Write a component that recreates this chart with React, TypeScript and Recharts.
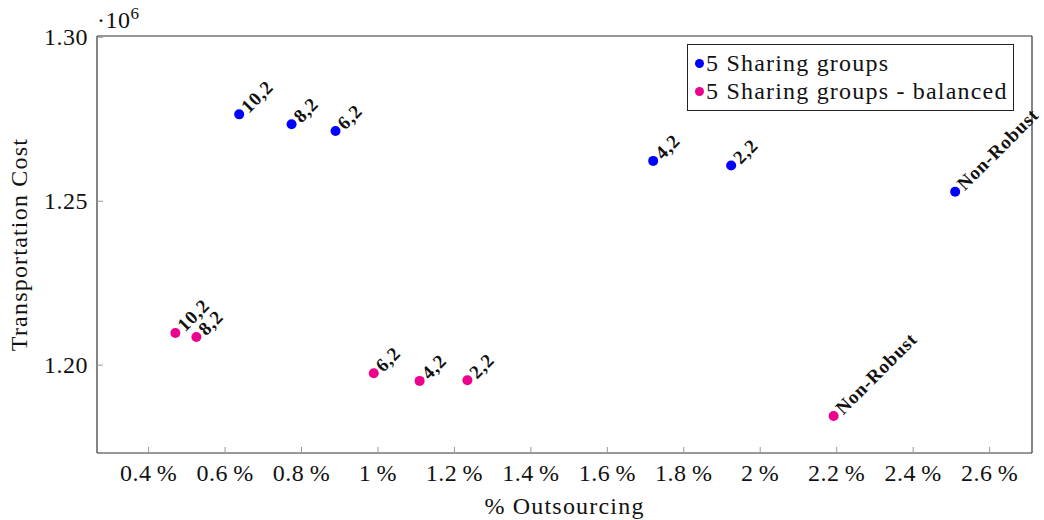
import React from 'react'
import { ScatterChart, Scatter, XAxis, YAxis, Legend, Label } from 'recharts'

// values in units of 10^6
const configLabels = ['10,2', '8,2', '6,2', '4,2', '2,2', 'Non-Robust']
const sharingOutsourcing = [0.637, 0.774, 0.889, 1.72, 1.924, 2.51]
const sharingCost = [1.2765, 1.2735, 1.2714, 1.2623, 1.2609, 1.2529]
const balancedOutsourcing = [0.47, 0.525, 0.989, 1.109, 1.234, 2.192]
const balancedCost = [1.2098, 1.2086, 1.1975, 1.1952, 1.1954, 1.1845]

const xTicks = [0.4, 0.6, 0.8, 1, 1.2, 1.4, 1.6, 1.8, 2, 2.2, 2.4, 2.6]
const yTicks = [1.2, 1.25, 1.3]

const FONT = '"Liberation Serif", "Times New Roman", serif'
const BLUE = '#0000ff'
const PINK = '#ec008c'

const sharingData = configLabels.map((label, i) => ({ x: sharingOutsourcing[i], y: sharingCost[i], label }))
const balancedData = configLabels.map((label, i) => ({ x: balancedOutsourcing[i], y: balancedCost[i], label }))

const fmtPct = (v: number) => `${Number(v.toFixed(1))}\u2009%`

const numStyle = { fontFamily: FONT, fontSize: 24, letterSpacing: 0.5 }
const wordStyle = { fontFamily: FONT, fontSize: 24, letterSpacing: 1.2 }

const BottomTick = (props: any) => {
  const { x, y, payload } = props
  return (
    <g>
      <line x1={x} x2={x} y1={y} y2={y - 6} stroke="#999" />
      <text x={x} y={y + 28} textAnchor="middle" style={numStyle} fill="#111">
        {fmtPct(payload.value)}
      </text>
    </g>
  )
}

const TopTick = (props: any) => {
  const { x, y } = props
  return <line x1={x} x2={x} y1={y} y2={y + 6} stroke="#999" />
}

const LeftTick = (props: any) => {
  const { x, y, payload } = props
  return (
    <g>
      <line x1={x} x2={x + 6} y1={y} y2={y} stroke="#999" />
      <text x={x - 9} y={y + 8} textAnchor="end" style={numStyle} fill="#111">
        {payload.value.toFixed(2)}
      </text>
    </g>
  )
}

const RightTick = (props: any) => {
  const { x, y } = props
  return <line x1={x} x2={x - 6} y1={y} y2={y} stroke="#999" />
}

const makeDot = (color: string) => (props: any) => {
  const { cx, cy, payload } = props
  const tx = cx + 5
  const ty = cy - 5
  return (
    <g>
      <circle cx={cx} cy={cy} r={5} fill={color} />
      <text
        x={tx}
        y={ty}
        transform={`rotate(-45 ${tx} ${ty})`}
        dominantBaseline="central"
        style={{ fontFamily: FONT, fontWeight: 'bold', fontSize: 19, letterSpacing: 0.8 }}
        fill="#111"
      >
        {payload.label}
      </text>
    </g>
  )
}

const YTitle = (props: any) => {
  const { viewBox } = props
  const cy = viewBox.y + viewBox.height / 2
  const left = viewBox.x + viewBox.width
  return (
    <g fill="#111">
      <text x={19} y={cy} transform={`rotate(-90 19 ${cy})`} textAnchor="middle" dominantBaseline="central" style={wordStyle}>
        Transportation Cost
      </text>
      <text x={left} y={viewBox.y - 8} style={numStyle}>
        ·10<tspan dy={-9} style={{ fontSize: 17 }}>6</tspan>
      </text>
    </g>
  )
}

const XTitle = (props: any) => {
  const { viewBox } = props
  return (
    <text x={viewBox.x + viewBox.width / 2} y={514} textAnchor="middle" style={wordStyle} fill="#111">
      % Outsourcing
    </text>
  )
}

const LegendBox = (props: any) => {
  const { payload } = props
  return (
    <div
      style={{
        boxSizing: 'border-box',
        width: 327,
        height: 67,
        border: '1.3px solid #222',
        background: '#fff',
        padding: '4px 0 0 7px',
        ...wordStyle,
        color: '#111',
        lineHeight: '28px',
      }}
    >
      {(payload || []).map((item: any) => (
        <div key={item.value} style={{ display: 'flex', alignItems: 'center', whiteSpace: 'nowrap' }}>
          <span
            style={{ width: 9, height: 9, borderRadius: '50%', background: item.color, display: 'inline-block', marginRight: 2 }}
          />
          {item.value}
        </div>
      ))}
    </div>
  )
}

export default function App() {
  return (
    <div style={{ position: 'absolute', left: 0, top: 0, width: 1044, height: 520, background: '#fff', fontFamily: FONT }}>
      <ScatterChart width={1044} height={520} margin={{ top: 35, right: 11, bottom: 7, left: 7 }}>
        <XAxis
          type="number"
          dataKey="x"
          domain={[0.265, 2.711]}
          ticks={xTicks}
          height={60}
          tickSize={0}
          tickMargin={0}
          tickLine={false}
          tick={<BottomTick />}
          axisLine={{ stroke: '#333', strokeWidth: 1.2 }}
        >
          <Label content={<XTitle />} />
        </XAxis>
        <XAxis
          xAxisId="top"
          orientation="top"
          type="number"
          dataKey="x"
          domain={[0.265, 2.711]}
          ticks={xTicks}
          height={1}
          tickSize={0}
          tickMargin={0}
          tickLine={false}
          tick={<TopTick />}
          axisLine={{ stroke: '#333', strokeWidth: 1.2 }}
        />
        <YAxis
          type="number"
          dataKey="y"
          domain={[1.1732, 1.3004]}
          ticks={yTicks}
          width={90}
          tickSize={0}
          tickMargin={0}
          tickLine={false}
          tick={<LeftTick />}
          axisLine={{ stroke: '#333', strokeWidth: 1.2 }}
        >
          <Label content={<YTitle />} />
        </YAxis>
        <YAxis
          yAxisId="right"
          orientation="right"
          type="number"
          dataKey="y"
          domain={[1.1732, 1.3004]}
          ticks={yTicks}
          width={1}
          tickSize={0}
          tickMargin={0}
          tickLine={false}
          tick={<RightTick />}
          axisLine={{ stroke: '#333', strokeWidth: 1.2 }}
        />
        <Legend
          layout="vertical"
          align="center"
          verticalAlign="middle"
          content={<LegendBox />}
          wrapperStyle={{ left: 687, top: 44, width: 327, height: 67 }}
        />
        <Scatter name="5 Sharing groups" data={sharingData} fill={BLUE} shape={makeDot(BLUE)} isAnimationActive={false} />
        <Scatter
          name="5 Sharing groups - balanced"
          data={balancedData}
          fill={PINK}
          shape={makeDot(PINK)}
          isAnimationActive={false}
        />
      </ScatterChart>
    </div>
  )
}
